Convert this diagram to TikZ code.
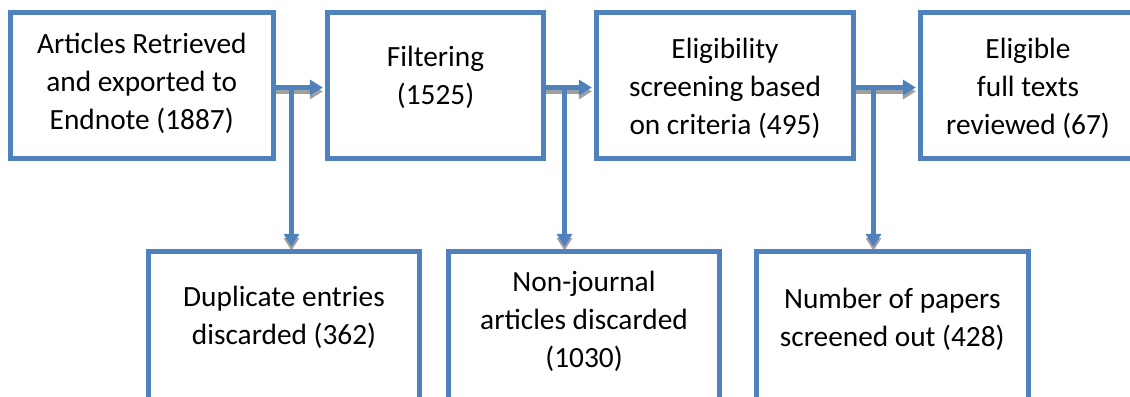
\documentclass[tikz,border=0pt]{standalone}
\usepackage{fontspec}
\setmainfont{Carlito}
\usetikzlibrary{arrows.meta, positioning, calc}
\definecolor{boxblue}{RGB}{79,129,189}
\definecolor{shade}{RGB}{160,160,160}
\pgfdeclarelayer{background}
\pgfsetlayers{background,main}

\begin{document}
\begin{tikzpicture}[x=0.75pt, y=-0.75pt,
    stage/.style={draw=boxblue, line width=3.75pt, fill=white, inner sep=0pt, minimum width=#1},
    top/.style={stage=#1, minimum height=109.875pt},
    bottom/.style={stage=#1, minimum height=150pt},
    txt/.style={align=center, inner sep=0pt, anchor=base, font=\fontsize{22}{28.5}\selectfont},
    flow/.style={draw=boxblue, line width=3.75pt, -{Triangle[length=9.75pt, width=11.25pt]}, shorten >=1.6pt},
    flowshade/.style={flow, draw=shade, fill=shade, transform canvas={yshift=-3pt}}]
        \useasboundingbox (0,0) rectangle (1130,396);
        \clip (0,0) rectangle (1130,396);
        % upper row
        \node[top=196.875pt] (retrieved) at (141.75,85.25) {};
        \node[top=162pt] (filtering) at (435.5,85.25) {};
        \node[top=192.75pt] (screening) at (725,85.25) {};
        \node[top=161.25pt] (eligible) at (1028,85.25) {};
        % lower row
        \node[bottom=203.25pt] (duplicates) at (284,351.5) {};
        \node[bottom=203.25pt] (nonjournal) at (584,351.5) {};
        \node[bottom=203.6pt] (screenedout) at (892.25,351.5) {};
        % texts, placed on the baseline of their last line
        \node[txt] (retrievedT) at (141.75,129) {Articles Retrieved\\and exported to\\Endnote (1887)};
        \node[txt] (filteringT) at (435.5,104) {Filtering\\(1525)};
        \node[txt] (screeningT) at (725,134) {Eligibility\\screening based\\on criteria (495)};
        \node[txt] (eligibleT) at (1028,134) {Eligible\\full texts\\reviewed (67)};
        \node[txt] (duplicatesT) at (284,344) {Duplicate entries\\discarded (362)};
        \node[txt] (nonjournalT) at (584,367) {Non-journal\\articles discarded\\(1030)};
        \node[txt] (screenedoutT) at (892.25,346) {Number of papers\\screened out (428)};
        % branch points
        \coordinate (split1) at (291.5,87.5);
        \coordinate (split2) at (564.5,87.5);
        \coordinate (split3) at (873.5,87.5);
        \begin{pgfonlayer}{background}
        \draw[flowshade] (retrieved.east |- split1) -- (filtering.west |- split1);
        \draw[flowshade] (filtering.east |- split2) -- (screening.west |- split2);
        \draw[flowshade] (screening.east |- split3) -- (eligible.west |- split3);
        \draw[flowshade] (split1) -- (split1 |- duplicates.north);
        \draw[flowshade] (split2) -- (split2 |- nonjournal.north);
        \draw[flowshade] (split3) -- (split3 |- screenedout.north);
        \end{pgfonlayer}
        \draw[flow] (retrieved.east |- split1) -- (filtering.west |- split1);
        \draw[flow] (filtering.east |- split2) -- (screening.west |- split2);
        \draw[flow] (screening.east |- split3) -- (eligible.west |- split3);
        \draw[flow] (split1) -- (split1 |- duplicates.north);
        \draw[flow] (split2) -- (split2 |- nonjournal.north);
        \draw[flow] (split3) -- (split3 |- screenedout.north);
\end{tikzpicture}
\end{document}
